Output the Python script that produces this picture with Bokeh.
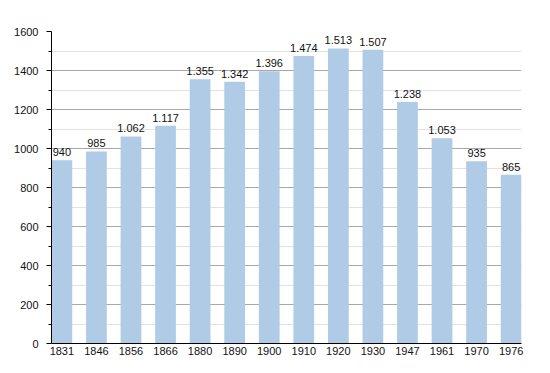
from bokeh.plotting import figure
from bokeh.models import Range1d, FixedTicker, ColumnDataSource
from bokeh.core.properties import value
from bokeh.embed import file_html
from bokeh.resources import INLINE

years = ["1831", "1846", "1856", "1866", "1880", "1890", "1900", "1910",
         "1920", "1930", "1947", "1961", "1970", "1976"]
population = [940, 985, 1062, 1117, 1355, 1342, 1396, 1474, 1513, 1507,
              1238, 1053, 935, 865]
y_ticks = [0, 200, 400, 600, 800, 1000, 1200, 1400, 1600]
y_minor = [100, 300, 500, 700, 900, 1100, 1300, 1500]

idx = list(range(len(years)))
labels = [f"{v:,}".replace(",", ".") for v in population]
src = ColumnDataSource(dict(x=idx, y=population, lab=labels))

FONT = "Liberation Sans"

p = figure(width=542, height=363, output_backend="svg", toolbar_location=None,
           x_range=Range1d(-0.3, len(years) - 0.7), y_range=Range1d(0, 1600),
           min_border_left=51, min_border_right=21, min_border_top=31,
           min_border_bottom=20)
p.outline_line_color = None
p.background_fill_color = "white"

p.vbar(x="x", top="y", width=0.6, source=src, fill_color="#b0cbe5",
       line_color=None)
p.text(x="x", y="y", text="lab", source=src, text_align="center",
       text_baseline="bottom", y_offset=-4, text_font=value(FONT),
       text_font_size="11px", text_color="#111111")

# x axis
p.xaxis.ticker = FixedTicker(ticks=idx)
p.xaxis.major_label_overrides = {i: y for i, y in enumerate(years)}
p.xaxis.major_tick_line_color = None
p.xaxis.minor_tick_line_color = None
p.xaxis.major_tick_out = 0
p.xaxis.major_tick_in = 0
p.xaxis.minor_tick_out = 0
p.xaxis.major_label_standoff = 3
p.xaxis.axis_line_color = "black"
p.xaxis.major_label_text_font = FONT
p.xaxis.major_label_text_font_size = "11px"
p.xaxis.major_label_text_color = "#111111"
p.xgrid.grid_line_color = None

# y axis
p.yaxis.ticker = FixedTicker(ticks=y_ticks, minor_ticks=y_minor)
p.yaxis.major_tick_out = 5
p.yaxis.major_tick_in = 0
p.yaxis.minor_tick_out = 3
p.yaxis.minor_tick_in = 0
p.yaxis.major_tick_line_color = "black"
p.yaxis.minor_tick_line_color = "black"
p.yaxis.axis_line_color = "black"
p.yaxis.major_label_standoff = 8
p.yaxis.major_label_text_font = FONT
p.yaxis.major_label_text_font_size = "11px"
p.yaxis.major_label_text_color = "#111111"

p.ygrid.grid_line_color = "#a8a8a8"
p.ygrid.minor_grid_line_color = "#e2e2e2"

open("out.html", "w").write(file_html(p, INLINE))
